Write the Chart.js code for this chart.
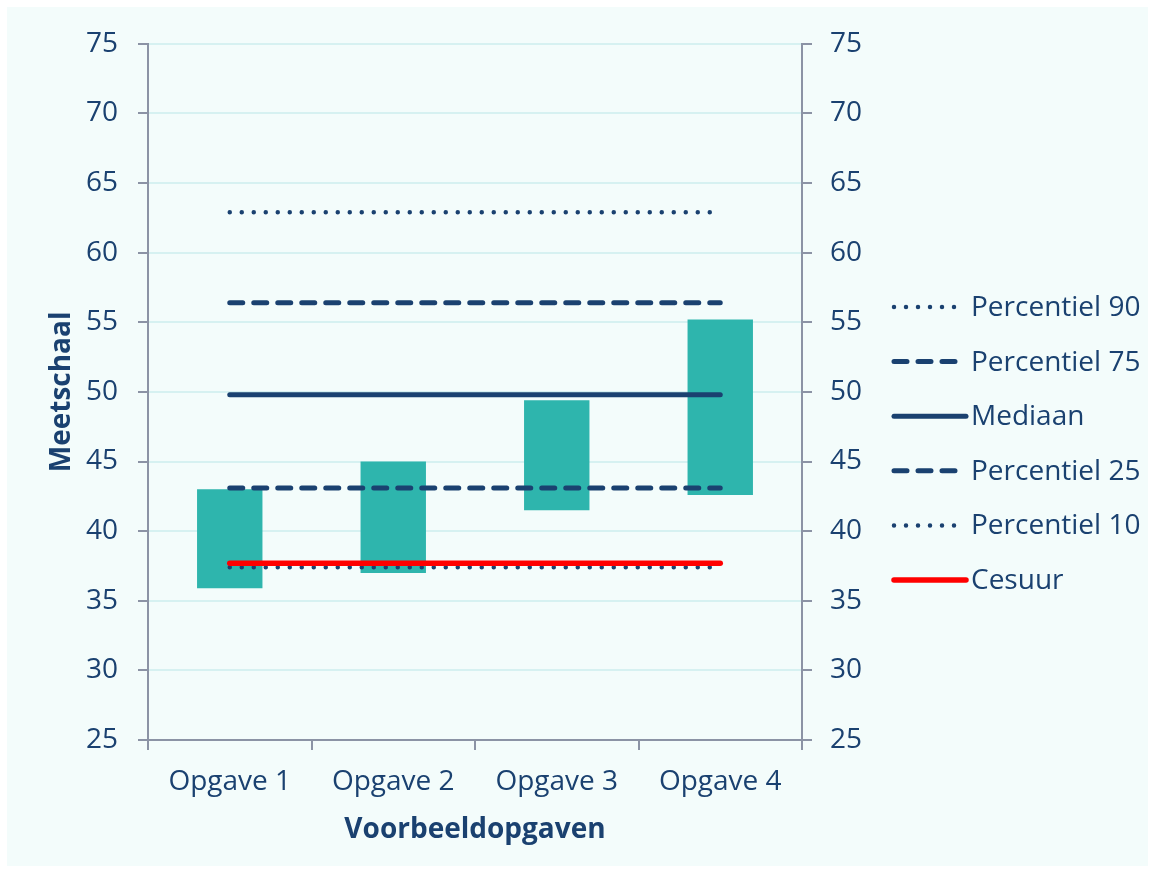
<!DOCTYPE html>
<html>
<head>
  <meta charset="UTF-8">
  <title>Voorbeeldopgaven</title>
  <style>
    body {
      margin: 0;
      background: #ffffff;
      overflow: hidden;
    }

    #chart-container {
      position: absolute;
      left: 7px;
      top: 7px;
      width: 1141px;
      height: 859px;
      background: #f3fcfb;
    }
  </style>
  <script src="https://cdn.jsdelivr.net/npm/chart.js"></script>
</head>
<body>
  <div id="chart-container">
    <canvas id="chart" width="1141" height="859"></canvas>
  </div>

  <script>
    var categories = ['Opgave 1', 'Opgave 2', 'Opgave 3', 'Opgave 4'];
    var barLow = [35.9, 37.0, 41.5, 42.6];
    var barHigh = [43.0, 45.0, 49.4, 55.2];
    var p90 = [62.9, 62.9, 62.9, 62.9];
    var p75 = [56.4, 56.4, 56.4, 56.4];
    var mediaan = [49.8, 49.8, 49.8, 49.8];
    var p25 = [43.1, 43.1, 43.1, 43.1];
    var p10 = [37.4, 37.4, 37.4, 37.4];
    var cesuur = [37.7, 37.7, 37.7, 37.7];
    var yTicks = [25, 30, 35, 40, 45, 50, 55, 60, 65, 70, 75];

    var navy = '#1a4170';
    var teal = '#2eb5ad';
    var axisGray = '#8b93a5';
    var gridColor = '#d6f1f1';
    var fontFamily = '"Segoe UI", "Open Sans", sans-serif';
    var fontSize = 28;

    function lineSet(label, values, color, dash, width) {
      return {
        type: 'line',
        label: label,
        data: values,
        borderColor: color,
        borderWidth: width,
        borderDash: dash,
        borderCapStyle: 'round',
        pointRadius: 0,
        fill: false,
        order: 1
      };
    }

    var dotted = [0, 12];
    var dashed = [13, 11];

    var datasets = [
      {
        type: 'bar',
        label: 'Spreiding',
        data: categories.map(function (c, i) { return [barLow[i], barHigh[i]]; }),
        backgroundColor: teal,
        borderWidth: 0,
        barPercentage: 0.4,
        categoryPercentage: 1,
        order: 10
      },
      lineSet('Percentiel 90', p90, navy, dotted, 4.5),
      lineSet('Percentiel 75', p75, navy, dashed, 5),
      lineSet('Mediaan', mediaan, navy, [], 5),
      lineSet('Percentiel 25', p25, navy, dashed, 5),
      lineSet('Percentiel 10', p10, navy, dotted, 4.5),
      lineSet('Cesuur', cesuur, '#ff0000', [], 5.5)
    ];
    datasets[6].order = 0;

    // legend on the right, drawn by hand so the dash styles show
    var sideLegend = {
      id: 'sideLegend',
      afterDraw: function (chart) {
        var ctx = chart.ctx;
        var x0 = 887, x1 = 959, tx = 964;
        var y0 = 300, step = 54.6;
        ctx.save();
        ctx.font = fontSize + 'px ' + fontFamily;
        ctx.textBaseline = 'middle';
        ctx.fillStyle = navy;
        var n = 0;
        chart.data.datasets.forEach(function (ds) {
          if (ds.type !== 'line') return;
          var y = y0 + n * step;
          ctx.beginPath();
          ctx.strokeStyle = ds.borderColor;
          ctx.lineWidth = ds.borderWidth;
          ctx.lineCap = 'round';
          ctx.setLineDash(ds.borderDash);
          ctx.moveTo(x0, y);
          ctx.lineTo(ds.borderDash.length && ds.borderDash[0] === 0 ? x1 - 4 : x1, y);
          ctx.stroke();
          ctx.setLineDash([]);
          ctx.fillText(ds.label, tx, y + 1);
          n++;
        });
        ctx.restore();
      }
    };

    var ctx = document.getElementById('chart').getContext('2d');
    var chart = new Chart(ctx, {
      type: 'bar',
      data: {
        labels: categories,
        datasets: datasets
      },
      options: {
        responsive: false,
        animation: false,
        layout: {
          padding: { top: 33, right: 256, bottom: 0, left: 0 }
        },
        plugins: {
          legend: { display: false },
          tooltip: { enabled: false }
        },
        scales: {
          x: {
            type: 'category',
            offset: true,
            grid: {
              offset: true,
              drawOnChartArea: false,
              tickLength: 10,
              tickColor: axisGray,
              lineWidth: 2
            },
            border: { color: axisGray, width: 2 },
            ticks: {
              color: navy,
              font: { family: fontFamily, size: fontSize },
              padding: 15
            },
            title: {
              display: true,
              text: 'Voorbeeldopgaven',
              color: navy,
              font: { family: fontFamily, size: fontSize, weight: 'bold' },
              padding: { top: 0, bottom: 19 }
            },
            afterFit: function (s) { s.height = 126; }
          },
          y: {
            position: 'left',
            min: 25,
            max: 75,
            afterBuildTicks: function (s) {
              s.ticks = yTicks.map(function (v) { return { value: v }; });
            },
            grid: {
              color: gridColor,
              lineWidth: 2,
              tickLength: 10,
              tickColor: axisGray
            },
            border: { color: axisGray, width: 2 },
            ticks: {
              color: navy,
              font: { family: fontFamily, size: fontSize },
              padding: 20
            },
            title: {
              display: true,
              text: 'Meetschaal',
              color: navy,
              font: { family: fontFamily, size: fontSize, weight: 'bold' },
              padding: { top: 38, bottom: 0 }
            },
            afterFit: function (s) { s.width = 141; }
          },
          y2: {
            position: 'right',
            min: 25,
            max: 75,
            afterBuildTicks: function (s) {
              s.ticks = yTicks.map(function (v) { return { value: v }; });
            },
            grid: {
              drawOnChartArea: false,
              lineWidth: 2,
              tickLength: 10,
              tickColor: axisGray
            },
            border: { color: axisGray, width: 2 },
            ticks: {
              color: navy,
              font: { family: fontFamily, size: fontSize },
              padding: 18
            },
            afterFit: function (s) { s.width = 90; }
          }
        }
      },
      plugins: [sideLegend]
    });
  </script>
</body>
</html>
